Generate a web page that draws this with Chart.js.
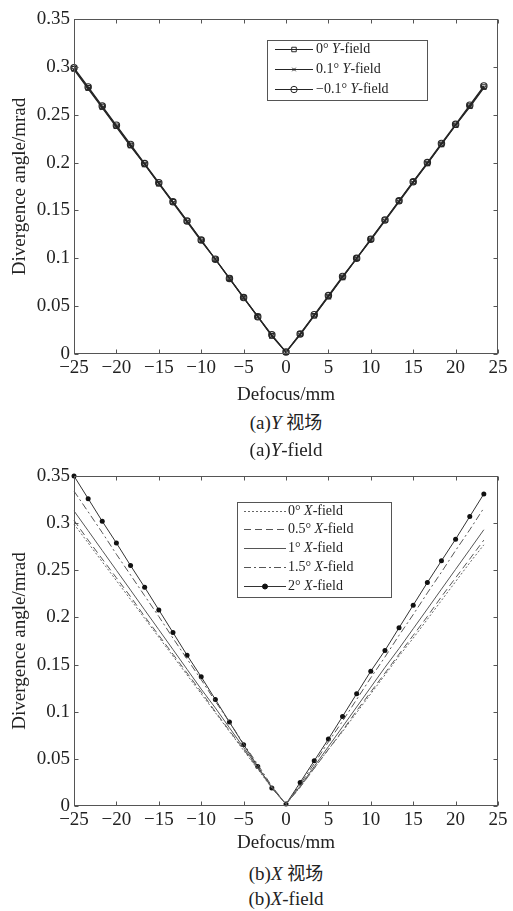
<!DOCTYPE html>
<html><head><meta charset="utf-8">
<script src="https://cdn.jsdelivr.net/npm/chart.js@4.4.1/dist/chart.umd.min.js"></script>
<style>
html,body{margin:0;padding:0;background:#fff;width:513px;height:911px;overflow:hidden;}
.wrap{position:absolute;left:0;width:513px;}
canvas{display:block;}
.cap{position:absolute;left:0;width:572px;text-align:center;font-family:"Liberation Serif","Times New Roman",serif;font-size:19px;color:#222;line-height:22px;z-index:5;}
.cap i{font-style:italic;}
.cjk{font-family:"Noto Sans CJK SC",sans-serif;font-size:18px;}
</style></head><body>
<div class="wrap" style="top:0;height:406px"><canvas id="c1" width="513" height="406"></canvas></div>
<div class="cap" style="top:410px">(a)<i>Y</i> <span class="cjk">视场</span></div>
<div class="cap" style="top:439px">(a)<i>Y</i>-field</div>
<div class="wrap" style="top:455px;height:399px"><canvas id="c2" width="513" height="399"></canvas></div>
<div class="cap" style="top:861px">(b)<i>X</i> <span class="cjk">视场</span></div>
<div class="cap" style="top:888px">(b)<i>X</i>-field</div>
<script>
// ---- data ----
const defocus = [-25,-23.33,-21.67,-20,-18.33,-16.67,-15,-13.33,-11.67,-10,-8.33,-6.67,-5,-3.33,-1.67,0,
                 1.67,3.33,5,6.67,8.33,10,11.67,13.33,15,16.67,18.33,20,21.67,23.33];
const y0deg   = [0.298,0.278,0.258,0.238,0.218,0.198,0.178,0.159,0.139,0.119,0.099,0.079,0.059,0.039,0.019,0.002,
                 0.021,0.040,0.060,0.080,0.100,0.120,0.140,0.160,0.180,0.199,0.219,0.239,0.259,0.279];
const y01deg  = [0.297,0.277,0.257,0.237,0.217,0.198,0.178,0.158,0.138,0.118,0.099,0.079,0.059,0.039,0.019,0.002,
                 0.020,0.040,0.060,0.080,0.100,0.119,0.139,0.159,0.179,0.199,0.219,0.239,0.258,0.278];
const ym01deg = [0.299,0.279,0.259,0.239,0.219,0.199,0.179,0.159,0.139,0.119,0.099,0.079,0.059,0.039,0.020,0.002,
                 0.021,0.041,0.061,0.081,0.100,0.120,0.140,0.160,0.180,0.200,0.220,0.240,0.260,0.280];
const x0deg   = [0.299,0.279,0.259,0.239,0.219,0.199,0.179,0.159,0.139,0.119,0.099,0.079,0.059,0.039,0.019,0.002,
                 0.020,0.040,0.060,0.079,0.099,0.119,0.139,0.159,0.178,0.198,0.218,0.238,0.258,0.277];
const x05deg  = [0.303,0.282,0.262,0.242,0.222,0.201,0.181,0.161,0.141,0.121,0.100,0.080,0.060,0.040,0.020,0.002,
                 0.020,0.040,0.060,0.080,0.101,0.121,0.141,0.161,0.181,0.201,0.222,0.242,0.262,0.282];
const x1deg   = [0.313,0.292,0.271,0.250,0.229,0.208,0.187,0.166,0.145,0.124,0.104,0.083,0.062,0.041,0.020,0.002,
                 0.021,0.042,0.063,0.084,0.105,0.126,0.147,0.167,0.188,0.209,0.230,0.251,0.272,0.293];
const x15deg  = [0.334,0.312,0.290,0.267,0.245,0.223,0.201,0.178,0.156,0.134,0.111,0.089,0.066,0.044,0.021,0.002,
                 0.023,0.045,0.068,0.090,0.113,0.136,0.158,0.181,0.203,0.226,0.248,0.271,0.293,0.316];
const x2deg   = [0.350,0.326,0.302,0.279,0.255,0.232,0.208,0.184,0.160,0.137,0.113,0.089,0.065,0.042,0.019,0.002,
                 0.025,0.048,0.071,0.095,0.119,0.143,0.165,0.189,0.213,0.237,0.260,0.283,0.307,0.331];
const xTickVals   = [-25,-20,-15,-10,-5,0,5,10,15,20,25];
const xTickLabels = ['\u221225','\u221220','\u221215','\u221210','\u22125','0','5','10','15','20','25'];
const yTickVals   = [0,0.05,0.1,0.15,0.2,0.25,0.3,0.35];
const yTickLabels = ['0','0.05','0.1','0.15','0.2','0.25','0.3','0.35'];
const labelsY = ['0\u00b0 Y-field','0.1\u00b0 Y-field','\u22120.1\u00b0 Y-field'];
const labelsX = ['0\u00b0 X-field','0.5\u00b0 X-field','1\u00b0 X-field','1.5\u00b0 X-field','2\u00b0 X-field'];

const SERIF = '"Liberation Serif","Times New Roman",serif';
const TXT = '#222';

function pts(ys){ return defocus.map((x,i)=>({x:x,y:ys[i]})); }

const framePlugin = {
  id:'frame',
  afterDatasetsDraw(chart){
    const {ctx, chartArea:a, scales:{x,y}} = chart;
    const L=Math.round(a.left)+0.5, R=Math.round(a.right)-0.5, T=Math.round(a.top)+0.5, B=Math.round(a.bottom)-0.5;
    ctx.save();
    ctx.strokeStyle='#555'; ctx.lineWidth=1;
    ctx.strokeRect(L,T,R-L,B-T);
    ctx.beginPath();
    xTickVals.forEach(v=>{ const px=Math.round(x.getPixelForValue(v))+0.5;
      ctx.moveTo(px,B); ctx.lineTo(px,B-4); ctx.moveTo(px,T); ctx.lineTo(px,T+4); });
    yTickVals.forEach(v=>{ const py=Math.round(y.getPixelForValue(v))+0.5;
      ctx.moveTo(L,py); ctx.lineTo(L+4,py); ctx.moveTo(R,py); ctx.lineTo(R-4,py); });
    ctx.stroke();
    ctx.restore();
  }
};

const boxLegend = {
  id:'boxLegend',
  afterDraw(chart, args, o){
    const ctx=chart.ctx; const [x1,y1,x2,y2]=o.box;
    ctx.save();
    ctx.fillStyle='#fff'; ctx.fillRect(x1,y1,x2-x1,y2-y1);
    ctx.strokeStyle='#555'; ctx.lineWidth=1; ctx.strokeRect(x1+0.5,y1+0.5,x2-x1,y2-y1);
    chart.data.datasets.forEach((ds,i)=>{
      const yy=o.rows[i]+0.5;
      ctx.save();
      ctx.strokeStyle=ds.borderColor; ctx.lineWidth=ds.borderWidth; ctx.setLineDash(ds.borderDash||[]);
      ctx.beginPath(); ctx.moveTo(o.lineX[0],yy); ctx.lineTo(o.lineX[1],yy); ctx.stroke();
      ctx.restore();
      if(ds.pointRadius>0){
        ctx.save();
        ctx.strokeStyle=ds.pointBorderColor||ds.borderColor; ctx.fillStyle=ds.pointBackgroundColor||'rgba(0,0,0,0)';
        ctx.lineWidth=1;
        Chart.helpers.drawPoint(ctx,{pointStyle:ds.pointStyle,radius:ds.pointRadius,borderWidth:1,rotation:0},(o.lineX[0]+o.lineX[1])/2,yy);
        ctx.restore();
      }
      const m = ds.label.match(/^(.*)([XY])(-field)$/);
      const parts = m ? [[m[1],false],[m[2],true],[m[3],false]] : [[ds.label,false]];
      let tx=o.textX;
      ctx.fillStyle=TXT; ctx.textBaseline='middle'; ctx.textAlign='left';
      parts.forEach(([t,it])=>{
        ctx.font=(it?'italic ':'')+o.fontSize+'px '+SERIF;
        ctx.fillText(t,tx,yy);
        tx+=ctx.measureText(t).width;
      });
    });
    ctx.restore();
  }
};

function makeOptions(padTop, axisBottom, canvasH, legendOpts){
  return {
    responsive:false, animation:false,
    layout:{padding:{top:padTop,right:15,left:0,bottom:0}},
    plugins:{legend:{display:false}, tooltip:{enabled:false}, boxLegend:legendOpts},
    scales:{
      x:{type:'linear', min:-25, max:25,
         afterBuildTicks:s=>{ s.ticks = xTickVals.map(v=>({value:v})); },
         afterFit:s=>{ s.height = canvasH - axisBottom; },
         ticks:{callback:(v,i)=>xTickLabels[i], font:{family:SERIF,size:19}, color:TXT, padding:3, maxRotation:0, autoSkip:false},
         grid:{display:false, drawTicks:false}, border:{display:false},
         title:{display:true, text:'Defocus/mm', font:{family:SERIF,size:19}, color:TXT, padding:0}
      },
      y:{type:'linear', min:0, max:0.35,
         afterBuildTicks:s=>{ s.ticks = yTickVals.map(v=>({value:v})); },
         afterFit:s=>{ s.width = 74; },
         ticks:{callback:(v,i)=>yTickLabels[i], font:{family:SERIF,size:19}, color:TXT, padding:4, autoSkip:false},
         grid:{display:false, drawTicks:false}, border:{display:false},
         title:{display:true, text:'Divergence angle/mrad', font:{family:SERIF,size:19}, color:TXT, padding:{top:9,bottom:0}}
      }
    }
  };
}

const LC='#262626';
new Chart(document.getElementById('c1'),{
  type:'line',
  data:{datasets:[
    {label:labelsY[0], data:pts(y0deg), borderColor:LC, borderWidth:1.2, pointStyle:'rect', pointRadius:3.2, pointBorderColor:LC, pointBackgroundColor:'rgba(0,0,0,0)', pointBorderWidth:1.1, clip:false},
    {label:labelsY[1], data:pts(y01deg), borderColor:LC, borderWidth:1.2, pointStyle:'crossRot', pointRadius:2.5, pointBorderColor:LC, pointBorderWidth:1.1, clip:false},
    {label:labelsY[2], data:pts(ym01deg), borderColor:LC, borderWidth:1.2, pointStyle:'circle', pointRadius:3.2, pointBorderColor:LC, pointBackgroundColor:'rgba(0,0,0,0)', pointBorderWidth:1.1, clip:false}
  ]},
  options:makeOptions(19,354,406,{box:[267,40,427,100], rows:[49,69,89], lineX:[275,313], textX:316, fontSize:14}),
  plugins:[framePlugin, boxLegend]
});

const GC='#555';
new Chart(document.getElementById('c2'),{
  type:'line',
  data:{datasets:[
    {label:labelsX[0], data:pts(x0deg), borderColor:'#666', borderWidth:1, borderDash:[2,2], pointRadius:0, clip:false},
    {label:labelsX[1], data:pts(x05deg), borderColor:GC, borderWidth:1, borderDash:[7,4], pointRadius:0, clip:false},
    {label:labelsX[2], data:pts(x1deg), borderColor:GC, borderWidth:1, pointRadius:0, clip:false},
    {label:labelsX[3], data:pts(x15deg), borderColor:GC, borderWidth:1, borderDash:[7,3,2,3], pointRadius:0, clip:false},
    {label:labelsX[4], data:pts(x2deg), borderColor:'#333', borderWidth:1, pointStyle:'circle', pointRadius:2.5, pointBorderColor:'#111', pointBackgroundColor:'#111', pointBorderWidth:0, clip:false}
  ]},
  options:makeOptions(21,351,399,{box:[237,47,391,142], rows:[56,74,93,112,131], lineX:[244,286], textX:288, fontSize:14}),
  plugins:[framePlugin, boxLegend]
});
</script>
</body></html>
